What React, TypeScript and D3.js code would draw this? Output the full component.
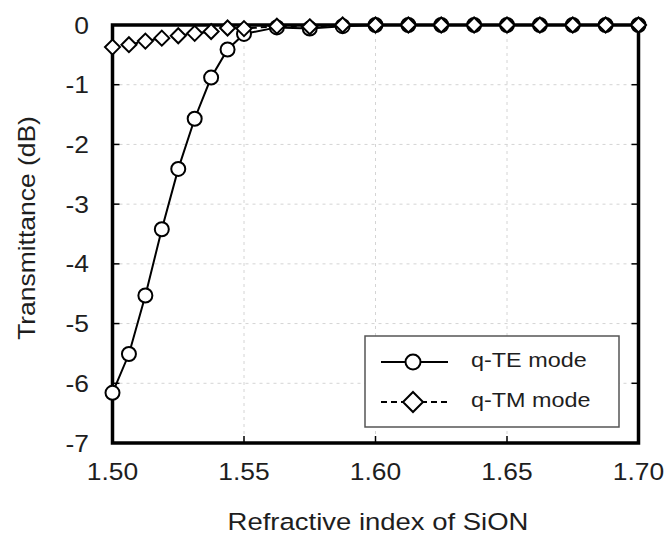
import React from "react";
import * as d3 from "d3";

const refIndex = [
  1.5, 1.50625, 1.5125, 1.51875, 1.525, 1.53125, 1.5375, 1.54375, 1.55,
  1.5625, 1.575, 1.5875, 1.6, 1.6125, 1.625, 1.6375, 1.65, 1.6625, 1.675, 1.6875, 1.7,
];
const teValues = [
  -6.16, -5.51, -4.53, -3.42, -2.41, -1.57, -0.88, -0.41, -0.15,
  -0.04, -0.06, -0.02, 0, 0, 0, 0, 0, 0, 0, 0, 0,
];
const tmValues = [
  -0.37, -0.33, -0.27, -0.22, -0.18, -0.14, -0.11, -0.05, -0.06,
  -0.02, -0.03, 0, 0, 0, 0, 0, 0, 0, 0, 0, 0,
];
const xTicks = [1.5, 1.55, 1.6, 1.65, 1.7];
const xTickLabels = ["1.50", "1.55", "1.60", "1.65", "1.70"];
const yTicks = [0, -1, -2, -3, -4, -5, -6, -7];
const seriesNames = ["q-TE mode", "q-TM mode"];
const xTitle = "Refractive index of SiON";
const yTitle = "Transmittance (dB)";

const W = 665;
const H = 535;
const L = 112.5, R = 638.5, T = 25, B = 443;
const FONT = "'Liberation Sans', Arial, Helvetica, sans-serif";
const TXT = "#1e1e1e";

function diamondPath(cx: number, cy: number, r: number) {
  return `M${cx},${cy - r}L${cx + r},${cy}L${cx},${cy + r}L${cx - r},${cy}Z`;
}

export default function App() {
  const x = d3.scaleLinear().domain([1.5, 1.7]).range([L, R]);
  const y = d3.scaleLinear().domain([0, -7]).range([T, B]);

  const te = refIndex.map((v, i) => [v, teValues[i]] as [number, number]);
  const tm = refIndex.map((v, i) => [v, tmValues[i]] as [number, number]);
  const line = d3
    .line<[number, number]>()
    .x((d) => x(d[0]))
    .y((d) => y(d[1]));

  const tickLen = 7;

  return (
    <svg
      width={W}
      height={H}
      style={{ position: "absolute", left: 0, top: 0, background: "#fff" }}
      fontFamily={FONT}
    >
      {/* gridlines */}
      {xTicks.slice(1, -1).map((t) => (
        <line key={"gx" + t} x1={x(t)} x2={x(t)} y1={T} y2={B} stroke="#d4d4d4" strokeWidth={1} strokeDasharray="3,4" />
      ))}
      {yTicks.slice(1, -1).map((t) => (
        <line key={"gy" + t} x1={L} x2={R} y1={y(t)} y2={y(t)} stroke="#d4d4d4" strokeWidth={1} strokeDasharray="3,4" />
      ))}

      {/* ticks */}
      {xTicks.map((t) => (
        <g key={"tx" + t}>
          <line x1={x(t)} x2={x(t)} y1={B} y2={B - tickLen} stroke="#000" strokeWidth={1.5} />
          <line x1={x(t)} x2={x(t)} y1={T} y2={T + tickLen} stroke="#000" strokeWidth={1.5} />
        </g>
      ))}
      {yTicks.map((t) => (
        <g key={"ty" + t}>
          <line x1={L} x2={L + tickLen} y1={y(t)} y2={y(t)} stroke="#000" strokeWidth={1.5} />
          <line x1={R} x2={R - tickLen} y1={y(t)} y2={y(t)} stroke="#000" strokeWidth={1.5} />
        </g>
      ))}

      {/* frame */}
      <rect x={L} y={T} width={R - L} height={B - T} fill="none" stroke="#000" strokeWidth={3.5} />

      {/* tick labels */}
      {xTicks.map((t, i) => (
        <text
          key={"lx" + t}
          transform={`translate(${x(t)},${480}) scale(1.1,1)`}
          textAnchor="middle"
          fontSize={24}
          fill={TXT}
        >
          {xTickLabels[i]}
        </text>
      ))}
      {yTicks.map((t) => (
        <text
          key={"ly" + t}
          transform={`translate(${89},${y(t) + 8.5}) scale(1.1,1)`}
          textAnchor="end"
          fontSize={24}
          fill={TXT}
        >
          {t === 0 ? "0" : String(t)}
        </text>
      ))}

      {/* axis titles */}
      <text
        transform={`translate(${378},${530}) scale(1.17,1)`}
        textAnchor="middle"
        fontSize={23.5}
        fill={TXT}
      >
        {xTitle}
      </text>
      <text
        transform={`translate(${35},${228}) rotate(-90) scale(1.15,1)`}
        textAnchor="middle"
        fontSize={23}
        fill={TXT}
      >
        {yTitle}
      </text>

      {/* TE series */}
      <path d={line(te) || ""} fill="none" stroke="#000" strokeWidth={2} />
      {te.map((d, i) => (
        <circle key={"c" + i} cx={x(d[0])} cy={y(d[1])} r={7} fill="#fff" stroke="#000" strokeWidth={2} />
      ))}

      {/* TM series */}
      <path d={line(tm) || ""} fill="none" stroke="#000" strokeWidth={2} strokeDasharray="6,4" />
      {tm.map((d, i) => (
        <path key={"d" + i} d={diamondPath(x(d[0]), y(d[1]), 7.5)} fill="#fff" stroke="#000" strokeWidth={2} />
      ))}

      {/* legend */}
      <rect x={365} y={336} width={254} height={91} fill="#fff" stroke="#555" strokeWidth={1.5} />
      <line x1={381} x2={448} y1={362} y2={362} stroke="#000" strokeWidth={2} />
      <circle cx={413} cy={362} r={7.5} fill="#fff" stroke="#000" strokeWidth={2} />
      <text transform={`translate(471,367) scale(1.17,1)`} fontSize={20} fill={TXT}>
        {seriesNames[0]}
      </text>
      <line x1={381} x2={448} y1={402} y2={402} stroke="#000" strokeWidth={2} strokeDasharray="6,4" />
      <path d={diamondPath(413, 402, 10)} fill="#fff" stroke="#000" strokeWidth={2} />
      <text transform={`translate(471,407) scale(1.17,1)`} fontSize={20} fill={TXT}>
        {seriesNames[1]}
      </text>
    </svg>
  );
}
